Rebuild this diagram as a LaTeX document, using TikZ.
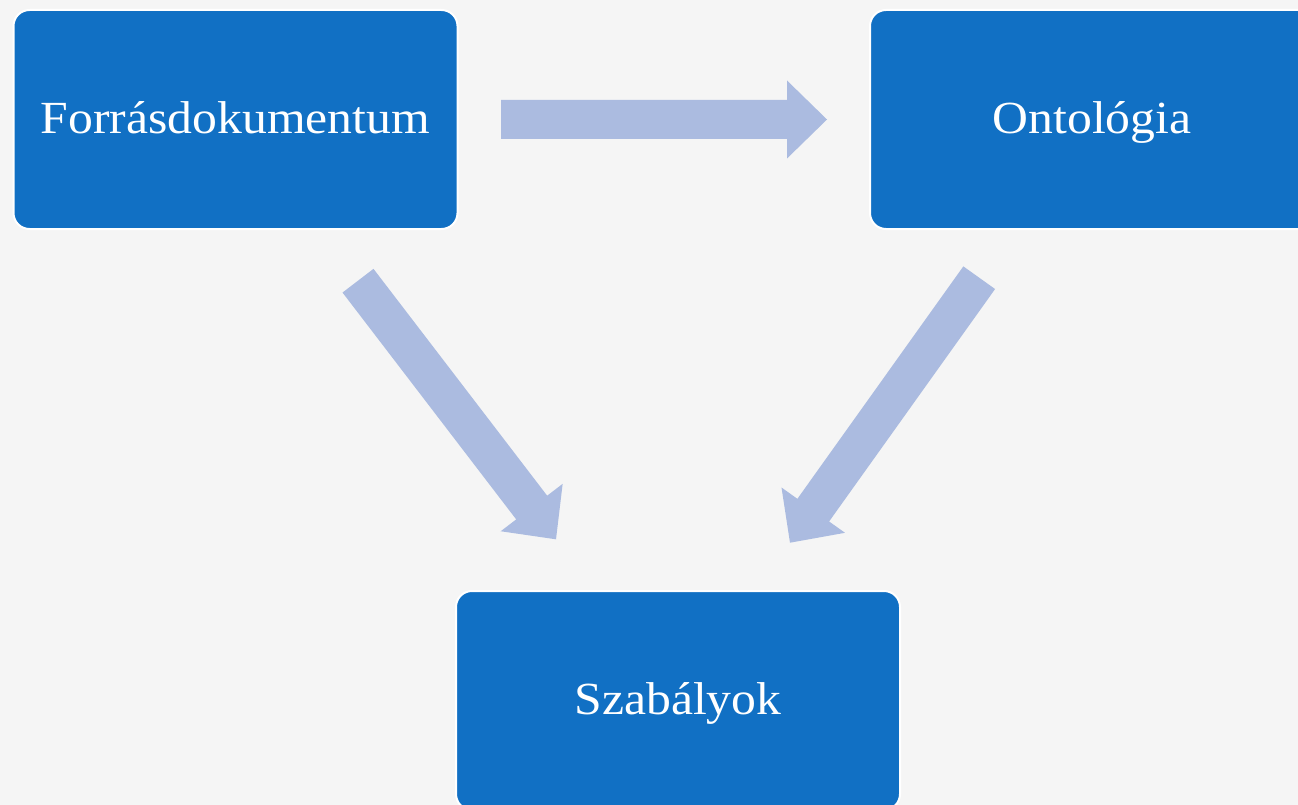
\documentclass[tikz,border=0pt]{standalone}
\usepackage{fontspec}
\usetikzlibrary{calc}
\newfontfamily\boxfont[FakeStretch=1.08]{Liberation Serif}
\definecolor{pagebg}{HTML}{F5F5F5}
\definecolor{boxblue}{HTML}{1170C4}
\definecolor{arrowblue}{HTML}{ABBBE0}
\tikzset{
  stepbox/.style={rectangle, rounded corners=16pt, fill=boxblue,
    draw=white, line width=2pt, minimum width=444pt, minimum height=219pt,
    inner sep=0pt, text height=34.5pt, text depth=7.4pt, text=white,
    font=\boxfont\fontsize{46}{50}\selectfont},
  blockfill/.style={fill=arrowblue, draw=none}
}
% wide block arrow from #1 to #2: shaft 39pt, head 78pt wide and 40pt long
\newcommand\blockarrow[2]{%
  \fill[blockfill]
    ($(#1)!19.5pt!90:(#2)$) --
    ($($(#2)!40pt!(#1)$)!19.5pt!90:(#2)$) --
    ($($(#2)!40pt!(#1)$)!39pt!90:(#2)$) --
    (#2) --
    ($($(#2)!40pt!(#1)$)!39pt!-90:(#2)$) --
    ($($(#2)!40pt!(#1)$)!19.5pt!-90:(#2)$) --
    ($(#1)!19.5pt!-90:(#2)$) -- cycle;}
\begin{document}
\begin{tikzpicture}[x=1pt,y=-1pt]
  \fill[pagebg] (0,0) rectangle (1298,805);
  \useasboundingbox (0,0) rectangle (1298,805);
  \clip (0,0) rectangle (1298,805);

  \node[stepbox] (src) at (235.5,119.5) {Forrásdokumentum};
  \node[stepbox] (onto) at (1092,119.5) {Ontológia};
  \node[stepbox] (rules) at (678,700.5) {Szabályok};

  \coordinate (a1s) at (501,119.5);
  \coordinate (a1e) at (827,119.5);
  \coordinate (a2s) at (358,280.7);
  \coordinate (a2e) at (556,539.3);
  \coordinate (a3s) at (979.2,277.7);
  \coordinate (a3e) at (790,542.7);

  \blockarrow{a1s}{a1e}
  \blockarrow{a2s}{a2e}
  \blockarrow{a3s}{a3e}
\end{tikzpicture}
\end{document}
